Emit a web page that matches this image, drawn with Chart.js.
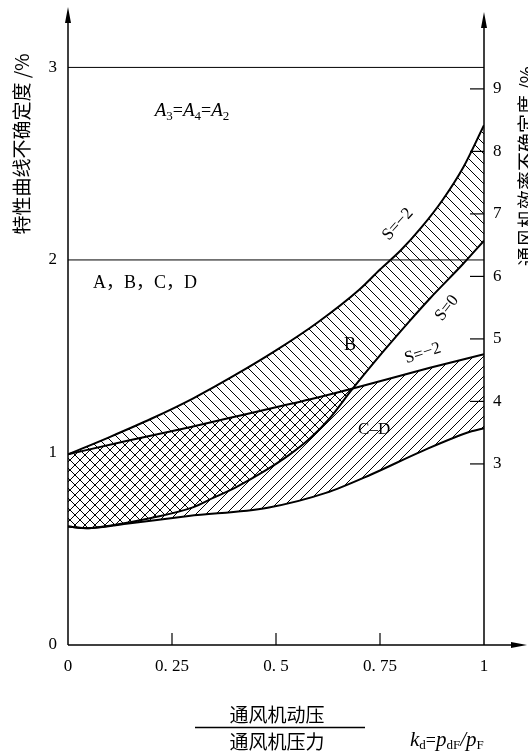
<!DOCTYPE html>
<html>
<head>
<meta charset="utf-8">
<script src="https://cdn.jsdelivr.net/npm/chart.js@4.4.1/dist/chart.umd.min.js"></script>
<style>
  html, body { margin: 0; background: #fff; }
  canvas { display: block; }
</style>
</head>
<body>
<canvas id="grafico" width="528" height="755"></canvas>
<script>
// eixo x: k_d = p_dF / p_F
const xTicks = [0, 0.25, 0.5, 0.75, 1];
const xTickLabels = ["0", "0. 25", "0. 5", "0. 75", "1"];
// eixo esquerdo (特性曲线不确定度) e direito (通风机效率不确定度)
const leftTicks = [0, 1, 2, 3];
const rightTicks = [3, 4, 5, 6, 7, 8, 9];

// B, limite superior (S=-2)
const bUpperX = [0, 0.1, 0.2, 0.3, 0.4, 0.5, 0.6, 0.7, 0.75, 0.8, 0.85, 0.9, 0.95, 1];
const bUpperY = [0.99, 1.08, 1.175, 1.28, 1.40, 1.53, 1.675, 1.845, 1.95, 2.05, 2.17, 2.31, 2.48, 2.70];
// B, limite inferior (S=0)
const bLowerX = [0, 0.05, 0.1, 0.2, 0.3, 0.35, 0.4, 0.47, 0.53, 0.58, 0.63, 0.68, 0.76, 0.82, 0.87, 0.95, 1];
const bLowerY = [0.615, 0.607, 0.62, 0.66, 0.715, 0.765, 0.815, 0.90, 0.985, 1.07, 1.18, 1.32, 1.53, 1.68, 1.80, 1.98, 2.10];
// C-D, limite superior (S=-2)
const cdUpperX = [0, 0.14, 0.29, 0.39, 0.51, 0.58, 0.68, 0.87, 1];
const cdUpperY = [0.99, 1.06, 1.13, 1.18, 1.24, 1.275, 1.33, 1.44, 1.51];
// C-D, limite inferior
const cdLowerX = [0, 0.045, 0.14, 0.29, 0.48, 0.62, 0.73, 0.85, 0.97, 1];
const cdLowerY = [0.615, 0.607, 0.63, 0.67, 0.713, 0.79, 0.887, 1.006, 1.11, 1.126];
// linhas horizontais: A3=A4=A2 e A,B,C,D
const limitLines = [3, 2];

const serif = "'Liberation Serif', 'DejaVu Serif', serif";
const cjk = "'Noto Sans CJK SC', sans-serif";

function pontos(xs, ys) {
    return xs.map((v, i) => ({ x: v, y: ys[i] }));
}

function hachura(dir) {
    const s = 10;
    const c = document.createElement("canvas");
    c.width = s;
    c.height = s;
    const g = c.getContext("2d");
    g.strokeStyle = "#000";
    g.lineWidth = 1;
    g.beginPath();
    if (dir === "\\") {
        g.moveTo(-1, -1); g.lineTo(s + 1, s + 1);
        g.moveTo(s - 1, -1); g.lineTo(s + 1, 1);
        g.moveTo(-1, s - 1); g.lineTo(1, s + 1);
    } else {
        g.moveTo(-1, s + 1); g.lineTo(s + 1, -1);
        g.moveTo(-1, 1); g.lineTo(1, -1);
        g.moveTo(s - 1, s + 1); g.lineTo(s + 1, s - 1);
    }
    g.stroke();
    return g.createPattern(c, "repeat");
}

function curva(dados, fill, fundo) {
    return {
        data: dados,
        borderColor: "#000",
        borderWidth: 2,
        pointRadius: 0,
        cubicInterpolationMode: "monotone",
        fill: fill,
        backgroundColor: fundo || "transparent"
    };
}

const datasets = [
    curva(pontos(bUpperX, bUpperY), "+1", hachura("\\")),
    curva(pontos(bLowerX, bLowerY), false),
    curva(pontos(cdUpperX, cdUpperY), "+1", hachura("/")),
    curva(pontos(cdLowerX, cdLowerY), false)
];
limitLines.forEach(v => {
    datasets.push({
        data: [{ x: 0, y: v }, { x: 1, y: v }],
        borderColor: "#000",
        borderWidth: 1,
        pointRadius: 0,
        fill: false
    });
});

// textos dentro do grafico (posicao em valores dos eixos)
const notas = [
    { t: "A，B，C，D", x: 0.185, y: 1.88, rot: 0, tam: 18 },
    { t: "B", x: 0.678, y: 1.555, rot: 0, tam: 18 },
    { t: "S=−2", x: 0.793, y: 2.185, rot: -48, tam: 17 },
    { t: "S=0", x: 0.911, y: 1.75, rot: -52, tam: 17 },
    { t: "S=−2", x: 0.853, y: 1.515, rot: -18, tam: 17 },
    { t: "C–D", x: 0.736, y: 1.12, rot: 0, tam: 17 }
];

function linha(ctx, a, b, c, d) {
    ctx.beginPath();
    ctx.moveTo(a, b);
    ctx.lineTo(c, d);
    ctx.stroke();
}

function seta(ctx, pts) {
    ctx.beginPath();
    ctx.moveTo(pts[0], pts[1]);
    ctx.lineTo(pts[2], pts[3]);
    ctx.lineTo(pts[4], pts[5]);
    ctx.closePath();
    ctx.fill();
}

function textoPartes(ctx, partes, px, base, centro) {
    let w = 0;
    partes.forEach(p => { ctx.font = p.f; w += ctx.measureText(p.t).width; });
    let x = centro ? px - w / 2 : px;
    ctx.textAlign = "left";
    ctx.textBaseline = "alphabetic";
    partes.forEach(p => {
        ctx.font = p.f;
        ctx.fillText(p.t, x, base + (p.dy || 0));
        x += ctx.measureText(p.t).width;
    });
}

function vertical(ctx, txt, cx, cy) {
    ctx.save();
    ctx.translate(cx, cy);
    ctx.rotate(-Math.PI / 2);
    ctx.font = "19px " + cjk;
    ctx.textAlign = "center";
    ctx.textBaseline = "middle";
    ctx.fillText(txt, 0, 0);
    ctx.restore();
}

const desenhos = {
    id: "desenhos",
    afterDraw(chart) {
        const ctx = chart.ctx;
        const sx = chart.scales.x, sy = chart.scales.y, sy2 = chart.scales.y2;
        const x0 = sx.getPixelForValue(0), x1 = sx.getPixelForValue(1);
        const yb = sy.getPixelForValue(0);
        ctx.save();
        ctx.strokeStyle = "#000";
        ctx.fillStyle = "#000";
        ctx.lineWidth = 1.5;

        // eixos com setas
        linha(ctx, x0, yb, x0, 18);
        linha(ctx, x1, yb, x1, 22);
        linha(ctx, x0, yb, 515, yb);
        seta(ctx, [x0, 7, x0 - 3, 23, x0 + 3, 23]);
        seta(ctx, [x1, 12, x1 - 3, 28, x1 + 3, 28]);
        seta(ctx, [527, yb, 511, yb - 3, 511, yb + 3]);

        // marcas para dentro
        ctx.lineWidth = 1.2;
        rightTicks.forEach(v => {
            const py = sy2.getPixelForValue(v);
            linha(ctx, x1 - 14, py, x1, py);
        });
        xTicks.slice(1, -1).forEach(v => {
            const px = sx.getPixelForValue(v);
            linha(ctx, px, yb, px, yb - 12);
        });

        // notas
        notas.forEach(n => {
            ctx.save();
            ctx.translate(sx.getPixelForValue(n.x), sy.getPixelForValue(n.y));
            ctx.rotate(n.rot * Math.PI / 180);
            ctx.font = n.tam + "px " + serif + ", " + cjk;
            ctx.textAlign = "center";
            ctx.textBaseline = "middle";
            ctx.fillText(n.t, 0, 0);
            ctx.restore();
        });

        const nm = "18px " + serif;
        textoPartes(ctx, [
            { t: "A", f: "italic 19px " + serif }, { t: "3", f: "13px " + serif, dy: 4 }, { t: "=", f: nm },
            { t: "A", f: "italic 19px " + serif }, { t: "4", f: "13px " + serif, dy: 4 }, { t: "=", f: nm },
            { t: "A", f: "italic 19px " + serif }, { t: "2", f: "13px " + serif, dy: 4 }
        ], sx.getPixelForValue(0.298), sy.getPixelForValue(2.748), true);

        // titulos
        vertical(ctx, "特性曲线不确定度 /%", 22, 144);
        vertical(ctx, "通风机效率不确定度 /%", 527, 166);

        ctx.font = "19px " + cjk;
        ctx.textAlign = "center";
        ctx.textBaseline = "middle";
        ctx.fillText("通风机动压", 277, 715);
        ctx.fillText("通风机压力", 277, 742);
        ctx.lineWidth = 1.5;
        linha(ctx, 195, 727.5, 365, 727.5);

        const it = "italic 21px " + serif;
        const sb = "13px " + serif;
        textoPartes(ctx, [
            { t: "k", f: it }, { t: "d", f: sb, dy: 3 }, { t: "=", f: "18px " + serif },
            { t: "p", f: it }, { t: "dF", f: sb, dy: 3 }, { t: "/", f: it },
            { t: "p", f: it }, { t: "F", f: sb, dy: 3 }
        ], 410, 746, false);

        ctx.restore();
    }
};

function eixoY(pos, min, max, ticks, largura, pad) {
    return {
        type: "linear",
        position: pos,
        display: true,
        min: min,
        max: max,
        afterBuildTicks: s => { s.ticks = ticks.map(v => ({ value: v })); },
        afterFit: s => { s.width = largura; },
        grid: { display: false, drawTicks: false },
        border: { display: false },
        ticks: { color: "#000", padding: pad, font: { family: serif, size: 17 } }
    };
}

new Chart(document.getElementById("grafico").getContext("2d"), {
    type: "line",
    data: { datasets: datasets },
    options: {
        responsive: false,
        animation: false,
        layout: { padding: { top: 18, left: 0, right: 0, bottom: 0 } },
        plugins: { legend: { display: false }, tooltip: { enabled: false } },
        scales: {
            x: {
                type: "linear",
                min: 0,
                max: 1,
                afterBuildTicks: s => { s.ticks = xTicks.map(v => ({ value: v })); },
                afterFit: s => { s.height = 110; },
                grid: { display: false, drawTicks: false },
                border: { display: false },
                ticks: {
                    color: "#000",
                    padding: 11,
                    maxRotation: 0,
                    autoSkip: false,
                    font: { family: serif, size: 17 },
                    callback: (v, i) => xTickLabels[i]
                }
            },
            y: eixoY("left", 0, 3.24, leftTicks, 68, 11),
            y2: eixoY("right", 0.103, 10.083, rightTicks, 44, 9)
        }
    },
    plugins: [desenhos]
});
</script>
</body>
</html>
